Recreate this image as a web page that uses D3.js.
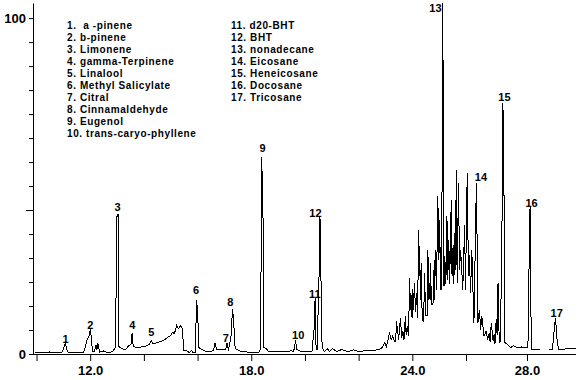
<!DOCTYPE html>
<html lang="en">
    <head>
        <meta charset="utf-8">
        <title>Chromatogram</title>
        <script type="text/javascript" src="https://d3js.org/d3.v7.min.js"></script>
        <style type="text/css">
          body { margin: 0; background: #fff; }
          svg { display: block; font-family: "Liberation Sans", Arial, sans-serif; }
          .legend text { font-size: 10px; font-weight: bold; letter-spacing: 0.6px; white-space: pre; }
          .peak { font-size: 11px; font-weight: bold; }
          .axis text { font-size: 13px; font-weight: bold; fill: #000; font-family: "Liberation Sans", Arial, sans-serif; }
          .axis line, .axis path { stroke: #000; }
        </style>
    </head>
    <body>
        <svg width="578" height="380"></svg>
        <script type="text/javascript">

            const svg = d3.select("svg");

            // retention time (min) and abundance (%)
            const times = [
              9.96, 10.41, 10.48, 10.56, 10.93, 11.01, 11.08, 11.12, 11.19, 11.75,
              11.83, 11.90, 11.97, 12.01, 12.05, 12.09, 12.16, 12.22, 12.25, 12.29,
              12.35, 12.50, 12.65, 12.83, 12.94, 13.00, 13.04, 13.07, 13.17, 13.32,
              13.43, 13.52, 13.56, 13.60, 13.69, 13.91, 14.14, 14.21, 14.28, 14.34,
              14.51, 14.73, 14.88, 14.99, 15.07, 15.14, 15.22, 15.29, 15.37, 15.44,
              15.48, 15.59, 15.70, 15.78, 15.85, 15.92, 15.96, 16.00, 16.05, 16.18,
              16.33, 16.48, 16.59, 16.65, 16.71, 17.04, 17.10, 17.15, 17.25, 17.30,
              17.34, 17.40, 17.56, 17.79, 17.94, 18.27, 18.34, 18.37, 18.39, 18.44,
              18.47, 18.57, 18.64, 19.02, 19.32, 19.47, 19.58, 19.65, 19.70, 19.81,
              20.00, 20.15, 20.26, 20.34, 20.38, 20.41, 20.45, 20.52, 20.56, 20.60,
              20.64, 20.73, 20.84, 20.92, 21.03, 21.18, 21.36, 21.59, 21.81, 22.03,
              22.26, 22.48, 22.70, 22.85, 22.97, 23.04, 23.15, 23.21, 23.27, 23.34,
              23.38, 23.41, 23.49, 23.56, 23.60, 23.65, 23.69, 23.74, 23.77, 23.81,
              23.86, 23.90, 23.93, 23.96, 23.99, 24.02, 24.05, 24.08, 24.12, 24.15,
              24.20, 24.23, 24.25, 24.27, 24.30, 24.33, 24.37, 24.42, 24.46, 24.49,
              24.55, 24.58, 24.61, 24.64, 24.66, 24.68, 24.71, 24.77, 24.80, 24.83,
              24.85, 24.90, 24.95, 24.99, 25.02, 25.05, 25.08, 25.10, 25.12, 25.15,
              25.18, 25.21, 25.25, 25.29, 25.32, 25.36, 25.39, 25.45, 25.48, 25.52,
              25.55, 25.57, 25.60, 25.64, 25.67, 25.72, 25.76, 25.80, 25.88, 25.95,
              25.98, 26.04, 26.08, 26.11, 26.15, 26.19, 26.26, 26.34, 26.36, 26.39,
              26.44, 26.48, 26.52, 26.59, 26.66, 26.71, 26.76, 26.79, 26.83, 26.89,
              26.92, 26.95, 26.99, 27.02, 27.05, 27.09, 27.13, 27.19, 27.21, 27.24,
              27.27, 27.37, 27.46, 27.56, 27.69, 27.83, 27.96, 28.03, 28.06, 28.10,
              28.14, 28.44, 28.57, 28.71, 28.83, 28.88, 28.93, 28.98, 29.03, 29.26,
              29.60
            ];
            const abundance = [
              0.3, 0.3, 0.6, 0.3, 0.3, 1.6, 3.3, 1.6, 0.3, 0.4,
              2.5, 4.6, 5.5, 7.6, 4.0, 0.7, 0.7, 2.8, 1.3, 3.1,
              0.6, 0.9, 0.4, 0.7, 1.9, 41.5, 41.5, 2.2, 1.6, 1.3,
              2.5, 2.8, 6.1, 2.5, 1.9, 2.1, 2.5, 3.0, 4.0, 3.1,
              3.4, 4.0, 4.9, 5.5, 6.4, 6.1, 8.5, 7.6, 8.5, 7.3,
              1.0, 1.0, 0.4, 1.0, 0.3, 0.3, 16.2, 13.2, 1.9, 1.3,
              0.6, 0.7, 1.0, 3.3, 1.2, 1.2, 3.3, 1.0, 5.5, 13.5,
              10.3, 1.6, 0.9, 0.7, 0.3, 0.3, 1.3, 30.2, 58.7, 40.0,
              1.9, 1.5, 0.7, 0.6, 0.6, 1.0, 0.7, 4.0, 1.3, 0.9,
              0.6, 0.7, 0.6, 7.3, 16.8, 2.8, 1.3, 20.7, 40.9, 21.2,
              1.9, 0.7, 1.6, 0.7, 1.6, 0.7, 1.3, 0.7, 1.2, 0.7,
              1.0, 0.9, 1.3, 1.6, 3.4, 2.2, 6.4, 4.3, 5.3, 3.7,
              3.8, 9.7, 4.3, 10.8, 4.9, 6.8, 4.3, 11.2, 5.8, 8.3,
              5.5, 22.6, 13.2, 17.7, 10.8, 19.2, 13.2, 21.2, 12.6, 18.2,
              10.8, 37.0, 28.1, 32.0, 16.2, 27.1, 10.3, 9.7, 24.1, 11.4,
              11.4, 31.1, 16.2, 21.2, 16.2, 27.1, 14.7, 14.7, 25.1, 16.2,
              31.1, 19.2, 46.9, 28.1, 40.0, 19.2, 23.1, 19.2, 104.5, 83.1,
              20.1, 29.1, 20.7, 41.0, 22.1, 34.0, 20.7, 45.9, 23.1, 32.5,
              20.7, 36.0, 25.1, 54.8, 21.2, 50.9, 25.1, 31.1, 19.2, 38.5,
              19.2, 53.8, 23.1, 29.6, 18.2, 31.1, 9.3, 50.9, 37.0, 9.3,
              13.2, 7.3, 11.2, 5.3, 6.8, 4.3, 6.1, 3.7, 9.3, 3.8,
              5.8, 3.1, 10.3, 5.8, 21.2, 3.4, 3.7, 45.9, 74.7, 58.8,
              3.4, 2.8, 1.9, 2.5, 1.8, 2.1, 1.8, 1.8, 22.1, 43.9,
              1.3, 1.3, null, 1.3, 1.3, 6.3, 10.8, 4.3, 1.3, 1.5,
              1.6
            ];

            // peak numbers and where their labels sit (time, abundance)
            const peakIds = [1, 2, 3, 4, 5, 6, 7, 8, 9, 10, 11, 12, 13, 14, 15, 16, 17];
            const peakLabelTime = [11.08, 12.00, 13.02, 13.57, 14.28, 15.94, 17.05, 17.22, 18.42,
                                   19.75, 20.37, 20.39, 24.86, 26.49, 27.26, 28.15, 28.97];
            const peakLabelLevel = [3.3, 7.5, 42.7, 7.5, 5.5, 18.0, 3.6, 14.4, 60.0,
                                    4.6, 16.7, 40.7, 101.9, 51.6, 75.2, 43.9, 10.9];

            const compounds = [" a -pinene", "b-pinene", "Limonene", "gamma-Terpinene", "Linalool",
                               "Methyl Salicylate", "Citral", "Cinnamaldehyde", "Eugenol",
                               "trans-caryo-phyllene", "d20-BHT", "BHT", "nonadecane", "Eicosane",
                               "Heneicosane", "Docosane", "Tricosane"];

            const xTicks = [10, 12, 14, 16, 18, 20, 22, 24, 26, 28];
            const xLabels = [12, 18, 24, 28];
            const yTicks = d3.range(15).map(i => i * 100 / 14);
            const yLabels = [0, 100];

            //scales
            const x = d3.scaleLinear()
                        .domain([9.8696, 26, 28, 29.6])
                        .range([33, 466, 527, 576]);
            const y = d3.scaleLinear()
                        .domain([0, 104.5])
                        .range([354, 3]);

            //axes
            const xAxis = svg.append("g")
                             .attr("class", "axis")
                             .attr("transform", "translate(0,354)")
                             .call(d3.axisBottom(x).tickValues(xTicks).tickSize(7).tickSizeOuter(0)
                                   .tickFormat(d => xLabels.includes(d) ? d.toFixed(1) : ""));
            xAxis.select(".domain").remove();
            xAxis.append("line")
                 .attr("x1", x.range()[0]).attr("x2", x.range()[3])
                 .attr("y1", 0.5).attr("y2", 0.5);
            xAxis.selectAll(".tick text").attr("dy", null).attr("y", 21);

            const yAxis = svg.append("g")
                             .attr("class", "axis")
                             .attr("transform", "translate(33,0)")
                             .call(d3.axisLeft(y).tickValues(yTicks).tickSize(4).tickSizeOuter(0).tickPadding(3)
                                   .tickFormat(d => yLabels.some(v => Math.abs(v - d) < 1e-6) ? d3.format("d")(d) : ""));
            yAxis.selectAll(".tick line").filter((d, i) => i === 6).attr("x2", -7);

            //the trace
            const points = times.map((t, i) => [t, abundance[i]]);
            const line = d3.line()
                           .defined(d => d[1] !== null)
                           .x(d => x(d[0]))
                           .y(d => y(d[1]));

            svg.append("path")
               .datum(points)
               .attr("d", line)
               .attr("fill", "none")
               .attr("stroke", "black")
               .attr("stroke-width", 1)
               .attr("shape-rendering", "crispEdges");

            //peak numbers
            svg.selectAll("text.peak")
               .data(peakIds)
               .enter()
               .append("text")
               .attr("class", "peak")
               .attr("text-anchor", "middle")
               .attr("x", (d, i) => x(peakLabelTime[i]))
               .attr("y", (d, i) => y(peakLabelLevel[i]))
               .text(d => d);

            //compound list
            const legend = svg.append("g").attr("class", "legend");
            legend.selectAll("text")
                  .data(compounds)
                  .enter()
                  .append("text")
                  .attr("x", (d, i) => i < 10 ? 67 : 231)
                  .attr("y", (d, i) => 28.5 + (i < 10 ? i : i - 10) * 12)
                  .text((d, i) => (i + 1) + ". " + d);

        </script>
    </body>
</html>
